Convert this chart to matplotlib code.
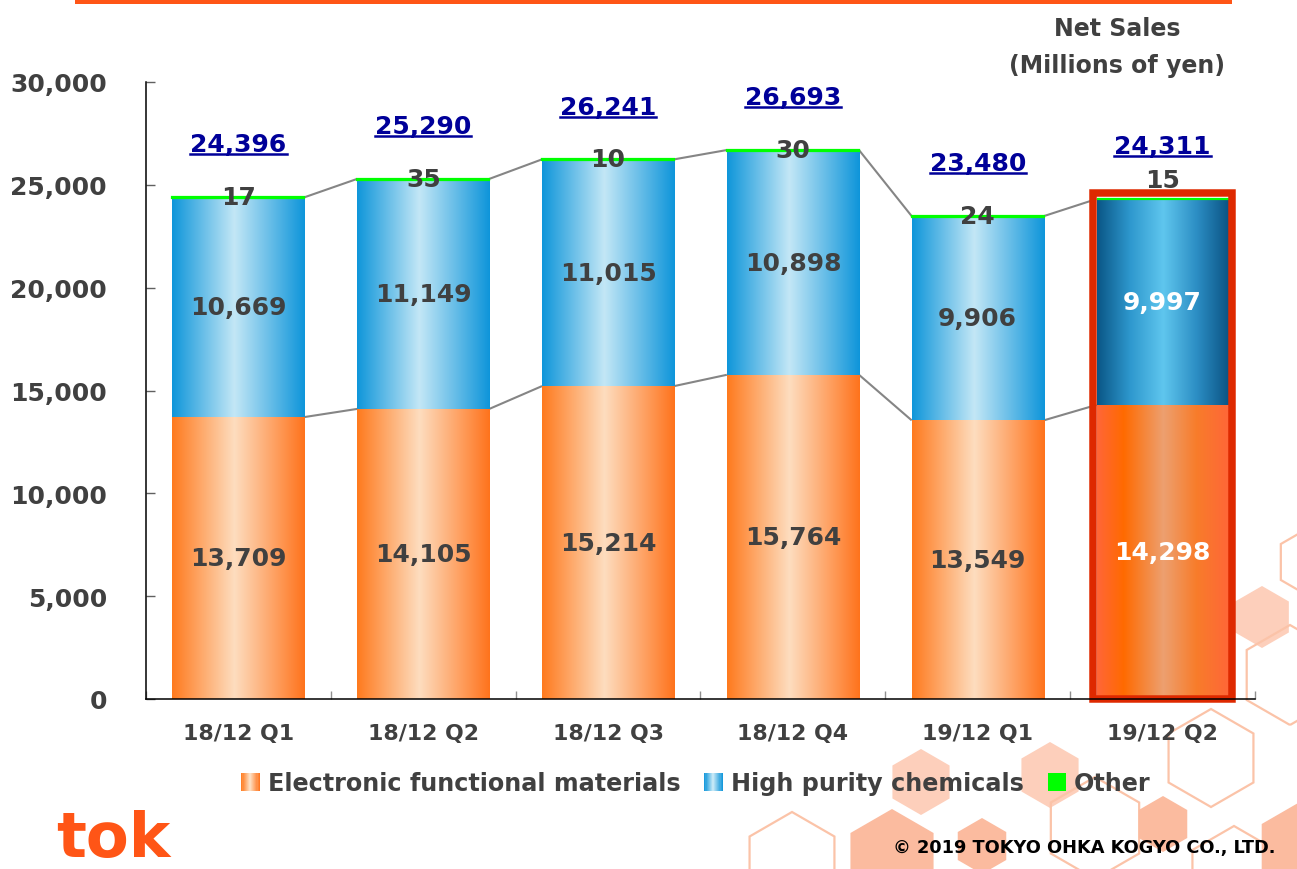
import numpy as np
import matplotlib
matplotlib.use('Agg')
import matplotlib.pyplot as plt
from matplotlib.colors import LinearSegmentedColormap
from matplotlib.patches import Rectangle, RegularPolygon, Patch
from matplotlib.legend_handler import HandlerBase
from matplotlib.lines import Line2D
from matplotlib.ticker import FuncFormatter

# ---------------- data ----------------
categories = ["18/12 Q1", "18/12 Q2", "18/12 Q3", "18/12 Q4", "19/12 Q1", "19/12 Q2"]
electronic = [13709, 14105, 15214, 15764, 13549, 14298]
high_purity = [10669, 11149, 11015, 10898, 9906, 9997]
other = [17, 35, 10, 30, 24, 15]
totals = [24396, 25290, 26241, 26693, 23480, 24311]
series_names = ["Electronic functional materials", "High purity chemicals", "Other"]
yticks = [0, 5000, 10000, 15000, 20000, 25000, 30000]
highlight_index = 5

plt.rcParams['font.family'] = ['DejaVu Sans']
plt.rcParams['font.weight'] = 'bold'

TXT = '#404040'
NAVY = '#000099'

W, H = 1297, 870
fig = plt.figure(figsize=(W / 100, H / 100), dpi=100)
fig.patch.set_facecolor('white')

# ---------------- background decorations ----------------
bg = fig.add_axes([0, 0, 1, 1], zorder=0)
bg.set_xlim(0, W)
bg.set_ylim(H, 0)
bg.axis('off')
bg.add_patch(Rectangle((75, 0), 1157, 5, facecolor='#FF5516', edgecolor='none'))

hexes = [
    (1312, 563, 36, 'o'), (1262, 618, 31, 'l'), (1290, 676, 50, 'o'),
    (1211, 759, 49, 'o'), (921, 783, 33, 'l'), (1050, 776, 33, 'l'),
    (792, 862, 49, 'o'), (892, 858, 48, 'd'), (982, 847, 28, 'd'),
    (1095, 829, 51, 'o'), (1163, 825, 28, 'd'), (1234, 875, 48, 'o'),
    (1305, 850, 50, 'd'),
]
for cx, cy, r, kind in hexes:
    if kind == 'o':
        p = RegularPolygon((cx, cy), 6, radius=r, orientation=0,
                           facecolor='none', edgecolor='#FBC3A8', lw=1.6)
    else:
        p = RegularPolygon((cx, cy), 6, radius=r, orientation=0,
                           facecolor='#FDCFBB' if kind == 'l' else '#FBBB9F',
                           edgecolor='none')
    bg.add_patch(p)

# ---------------- main axes ----------------
ax = fig.add_axes([146 / W, 1 - 700 / H, (1255 - 146) / W, (700 - 83) / H], zorder=2)
ax.patch.set_alpha(0)

orange_cmap = LinearSegmentedColormap.from_list(
    'or', [(0, '#FF7A1E'), (0.47, '#FDDDBF'), (1, '#FF731C')])
blue_cmap = LinearSegmentedColormap.from_list(
    'bl', [(0, '#0F96DA'), (0.47, '#C3E7F6'), (1, '#0E95DA')])
hl_orange = LinearSegmentedColormap.from_list(
    'hor', [(0, '#FF6638'), (0.2, '#FF6A00'), (0.5, '#EDA070'), (0.75, '#F87C2A'), (1, '#FF6638')])
hl_blue = LinearSegmentedColormap.from_list(
    'hbl', [(0, '#0A5686'), (0.25, '#2E98CE'), (0.5, '#5FC6EE'), (0.75, '#2C8EC4'), (1, '#0A5282')])

x = np.arange(len(categories))
width = 0.715
e = np.array(electronic)
h = np.array(high_purity)
o = np.array(other)
top_eh = e + h
stack_top = e + h + o

b_e = ax.bar(x, e, width, color='#FF7A20', zorder=3)
b_h = ax.bar(x, h, width, bottom=e, color='#1497DB', zorder=3)
b_o = ax.bar(x, o, width, bottom=top_eh, color='#00FF00', edgecolor='#00FF00',
             lw=1.6, zorder=4)

grad = np.linspace(0, 1, 256)[None, :]


def grad_fill(bars, cmaps):
    for rect, cm in zip(bars, cmaps):
        x0, y0 = rect.get_x(), rect.get_y()
        ax.imshow(grad, cmap=cm, extent=(x0, x0 + rect.get_width(), y0, y0 + rect.get_height()),
                  aspect='auto', zorder=3.5, interpolation='bilinear')


grad_fill(b_e, [hl_orange if i == highlight_index else orange_cmap for i in x])
grad_fill(b_h, [hl_blue if i == highlight_index else blue_cmap for i in x])

# connectors
for i in range(len(x) - 1):
    ax.plot([x[i] + width / 2, x[i + 1] - width / 2], [e[i], e[i + 1]],
            color='#858585', lw=1.5, zorder=2.8, solid_capstyle='butt')
    ax.plot([x[i] + width / 2, x[i + 1] - width / 2], [stack_top[i], stack_top[i + 1]],
            color='#858585', lw=1.5, zorder=2.8, solid_capstyle='butt')

# labels
total_texts = []
for i in x:
    c = 'white' if i == highlight_index else TXT
    ax.text(x[i], e[i] / 2, f"{e[i]:,}", ha='center', va='center', fontsize=18,
            color=c, zorder=8)
    ax.text(x[i], e[i] + h[i] / 2, f"{h[i]:,}", ha='center', va='center', fontsize=18,
            color=c, zorder=8)
    ax.annotate(f"{o[i]}", (x[i], stack_top[i]),
                xytext=(0, 14 if i == highlight_index else 0), textcoords='offset points',
                ha='center', va='center', fontsize=18, color=TXT, zorder=8)
    t = ax.annotate(f"{totals[i]:,}", (x[i], stack_top[i]), xytext=(0, 38),
                    textcoords='offset points', ha='center', va='center',
                    fontsize=18, color=NAVY, zorder=8)
    total_texts.append(t)

# highlight box
hx = x[highlight_index]
ax.add_patch(Rectangle((hx - 0.376, 0), 0.752, stack_top[highlight_index] + 290,
                       fill=False, edgecolor='#DE2900', lw=5.4, zorder=5, clip_on=False))

# axes styling
ax.set_xlim(-0.5, len(x) - 0.5)
ax.set_ylim(0, 30000)
ax.spines['top'].set_visible(False)
ax.spines['right'].set_visible(False)
for s in ('left', 'bottom'):
    ax.spines[s].set_color('black')
    ax.spines[s].set_linewidth(1.1)
    ax.spines[s].set_zorder(7)

ax.set_xticks(x)
ax.set_xticklabels(categories)
ax.set_xticks(np.arange(-0.5, len(x), 1), minor=True)
ax.tick_params(axis='x', which='major', length=0, pad=17, labelsize=15.8, labelcolor=TXT)
ax.tick_params(axis='x', which='minor', direction='in', length=6, color='#909090', width=1)
ax.set_yticks(yticks)
ax.yaxis.set_major_formatter(FuncFormatter(lambda v, p: f"{int(v):,}"))
ax.tick_params(axis='y', direction='in', length=6.5, pad=28, labelsize=18,
               labelcolor=TXT, color='#606060', width=1)


# legend
class GradientHandler(HandlerBase):
    def __init__(self, cmap, n=16):
        super().__init__()
        self.cmap = cmap
        self.n = n

    def create_artists(self, legend, orig_handle, xdescent, ydescent, width, height,
                       fontsize, trans):
        arts = []
        for k in range(self.n):
            arts.append(Rectangle((-xdescent + width * k / self.n, -ydescent),
                                  width / self.n * 1.05, height,
                                  facecolor=self.cmap((k + 0.5) / self.n),
                                  edgecolor='none', transform=trans))
        return arts


h0 = Patch(facecolor='#FF7A20')
h1 = Patch(facecolor='#1497DB')
h2 = Patch(facecolor='#00FF00')
leg = fig.legend([h0, h1, h2], series_names, loc='center',
                 bbox_to_anchor=(696 / W, 1 - 784 / H), ncol=3, frameon=False,
                 fontsize=17.2, handlelength=0.78, handleheight=0.8, handletextpad=0.33,
                 columnspacing=1.0, labelcolor=TXT,
                 handler_map={h0: GradientHandler(orange_cmap), h1: GradientHandler(blue_cmap)})

# titles & branding
fig.text(1117 / W, 1 - 29 / H, "Net Sales", ha='center', va='center', fontsize=17, color=TXT)
fig.text(1117 / W, 1 - 66 / H, "(Millions of yen)", ha='center', va='center', fontsize=17,
         color=TXT)
fig.text(56 / W, 1 - 857 / H, "tok", ha='left', va='baseline', fontsize=45,
         color='#FF5516', fontweight='heavy')
fig.text(1275 / W, 1 - 848 / H, "\u00a9 2019 TOKYO OHKA KOGYO CO., LTD.", ha='right',
         va='center', fontsize=12.8, color='black')

# underline totals
fig.canvas.draw()
renderer = fig.canvas.get_renderer()
for t in total_texts:
    bb = t.get_window_extent(renderer)
    yy = (bb.y0 + 2) / H
    fig.add_artist(Line2D([bb.x0 / W, bb.x1 / W], [yy, yy], transform=fig.transFigure,
                          color=NAVY, lw=1.8, zorder=9))

fig.savefig('out.png', dpi=100)
